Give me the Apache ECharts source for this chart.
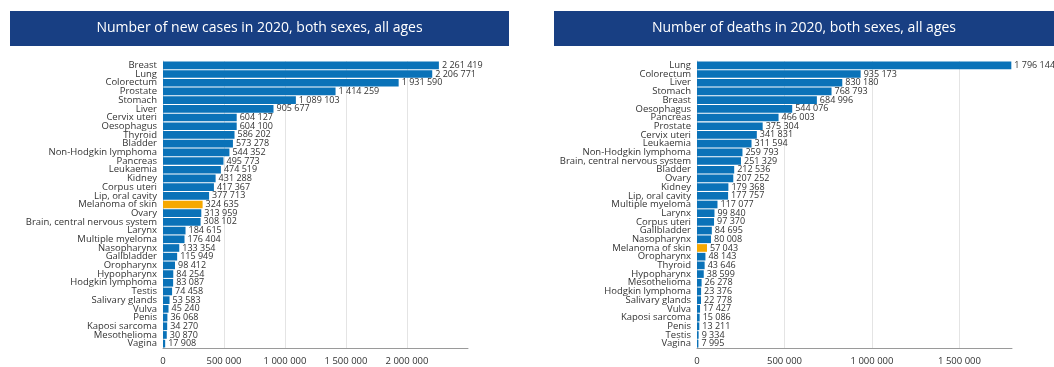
<!DOCTYPE html>
<html>
<head>
<meta charset="utf-8">
<script src="https://cdn.jsdelivr.net/npm/echarts@6/dist/echarts.min.js"></script>
<style>
  html, body { margin: 0; padding: 0; background: #ffffff; }
  #chart { width: 1054px; height: 367px; }
</style>
</head>
<body>
<div id="chart"></div>
<script>
// New cancer cases, 2020, both sexes, all ages
const casesCategories = [
  'Breast', 'Lung', 'Colorectum', 'Prostate', 'Stomach', 'Liver', 'Cervix uteri',
  'Oesophagus', 'Thyroid', 'Bladder', 'Non-Hodgkin lymphoma', 'Pancreas', 'Leukaemia',
  'Kidney', 'Corpus uteri', 'Lip, oral cavity', 'Melanoma of skin', 'Ovary',
  'Brain, central nervous system', 'Larynx', 'Multiple myeloma', 'Nasopharynx',
  'Gallbladder', 'Oropharynx', 'Hypopharynx', 'Hodgkin lymphoma', 'Testis',
  'Salivary glands', 'Vulva', 'Penis', 'Kaposi sarcoma', 'Mesothelioma', 'Vagina'
];
const casesValues = [
  2261419, 2206771, 1931590, 1414259, 1089103, 905677, 604127,
  604100, 586202, 573278, 544352, 495773, 474519,
  431288, 417367, 377713, 324635, 313959,
  308102, 184615, 176404, 133354,
  115949, 98412, 84254, 83087, 74458,
  53583, 45240, 36068, 34270, 30870, 17908
];

// Cancer deaths, 2020, both sexes, all ages
const deathsCategories = [
  'Lung', 'Colorectum', 'Liver', 'Stomach', 'Breast', 'Oesophagus', 'Pancreas',
  'Prostate', 'Cervix uteri', 'Leukaemia', 'Non-Hodgkin lymphoma',
  'Brain, central nervous system', 'Bladder', 'Ovary', 'Kidney', 'Lip, oral cavity',
  'Multiple myeloma', 'Larynx', 'Corpus uteri', 'Gallbladder', 'Nasopharynx',
  'Melanoma of skin', 'Oropharynx', 'Thyroid', 'Hypopharynx', 'Mesothelioma',
  'Hodgkin lymphoma', 'Salivary glands', 'Vulva', 'Kaposi sarcoma', 'Penis',
  'Testis', 'Vagina'
];
const deathsValues = [
  1796144, 935173, 830180, 768793, 684996, 544076, 466003,
  375304, 341831, 311594, 259793,
  251329, 212536, 207252, 179368, 177757,
  117077, 99840, 97370, 84695, 80008,
  57043, 48143, 43646, 38599, 26278,
  23376, 22778, 17427, 15086, 13211,
  9334, 7995
];

const casesTicks = { min: 0, max: 2500000, interval: 500000 };
const deathsTicks = { min: 0, max: 1800000, interval: 500000 };

const titles = [
  'Number of new cases in 2020, both sexes, all ages',
  'Number of deaths in 2020, both sexes, all ages'
];

const highlight = 'Melanoma of skin';
const BLUE = '#0a72b8';
const ORANGE = '#f6a800';
const NAVY = '#183f83';
const FONT = '"Open Sans", "Noto Sans", sans-serif';

// Thousands separated by spaces: 2261419 -> "2 261 419"
function spaced(v) {
  return String(Math.round(v)).replace(/\B(?=(\d{3})+(?!\d))/g, ' ');
}

function barData(cats, vals) {
  return vals.map((v, i) => ({
    value: v,
    itemStyle: { color: cats[i] === highlight ? ORANGE : BLUE }
  }));
}

function xAxisFor(gridIndex, ticks) {
  return {
    gridIndex,
    type: 'value',
    min: ticks.min,
    max: ticks.max,
    interval: ticks.interval,
    axisLine: { show: true, lineStyle: { color: '#9a9a9a', width: 1 } },
    axisTick: { show: false },
    axisLabel: {
      formatter: spaced,
      showMaxLabel: false,
      fontFamily: FONT,
      fontSize: 9.5,
      color: '#333',
      margin: 8
    },
    splitLine: {
      show: true,
      showMinLine: false,
      showMaxLine: false,
      lineStyle: { color: '#e4e4e4', width: 1 }
    }
  };
}

function yAxisFor(gridIndex, cats) {
  return {
    gridIndex,
    type: 'category',
    inverse: true,
    data: cats,
    axisLine: { show: true, lineStyle: { color: '#c3cfdc', width: 1 } },
    axisTick: { show: false },
    axisLabel: {
      fontFamily: FONT,
      fontSize: 9.5,
      color: '#333',
      margin: 6,
      interval: 0
    }
  };
}

function seriesFor(idx, cats, vals) {
  return {
    type: 'bar',
    xAxisIndex: idx,
    yAxisIndex: idx,
    data: barData(cats, vals),
    barCategoryGap: '12%',
    silent: true,
    label: {
      show: true,
      position: 'right',
      distance: 3,
      formatter: p => spaced(p.value),
      fontFamily: FONT,
      fontSize: 9,
      color: '#333'
    }
  };
}

function banner(x, width, text) {
  return [
    {
      type: 'rect',
      shape: { x: x, y: 11, width: width, height: 35 },
      style: { fill: NAVY }
    },
    {
      type: 'text',
      x: x + width / 2,
      y: 28.5,
      style: {
        text: text,
        fill: '#ffffff',
        font: '14px ' + FONT,
        align: 'center',
        verticalAlign: 'middle'
      }
    }
  ];
}

const chart = echarts.init(document.getElementById('chart'), null, { renderer: 'canvas' });

chart.setOption({
  animation: false,
  backgroundColor: '#ffffff',
  textStyle: { fontFamily: FONT },
  graphic: [
    ...banner(10, 499, titles[0]),
    ...banner(554, 500, titles[1])
  ],
  grid: [
    { left: 163, right: 586, top: 61, bottom: 19, containLabel: false },
    { left: 697, right: 42, top: 61, bottom: 19, containLabel: false }
  ],
  xAxis: [xAxisFor(0, casesTicks), xAxisFor(1, deathsTicks)],
  yAxis: [yAxisFor(0, casesCategories), yAxisFor(1, deathsCategories)],
  series: [
    seriesFor(0, casesCategories, casesValues),
    seriesFor(1, deathsCategories, deathsValues)
  ]
});
</script>
</body>
</html>
